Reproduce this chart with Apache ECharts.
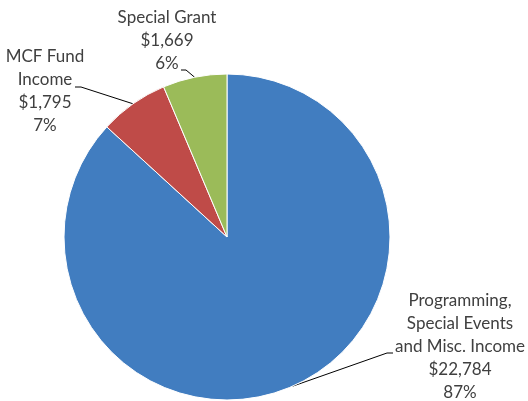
<!DOCTYPE html>
<html>
<head>
<meta charset="utf-8">
<script src="https://cdn.jsdelivr.net/npm/echarts@6/dist/echarts.min.js"></script>
<style>
html,body{margin:0;padding:0;background:#fff;}
#chart{width:528px;height:401px;}
</style>
</head>
<body>
<div id="chart"></div>
<script>
const categories = ["Programming,\nSpecial Events\nand Misc. Income", "MCF Fund\nIncome", "Special Grant"];
const values = [22784, 1795, 1669];
const colors = ["#417DC0", "#BF4B48", "#9BBB59"];

// label placement (pixel positions of label centres and line bends)
const labelPlacement = [
  { x: 460, y: 347, bend: [387, 353], end: [393, 353] },
  { x: 45, y: 91, bend: [81, 87], end: [75, 87] },
  { x: 167, y: 41, bend: [186, 70], end: [181, 70] }
];

const chart = echarts.init(document.getElementById('chart'), null, { renderer: 'canvas' });
chart.setOption({
  animation: false,
  backgroundColor: '#fff',
  series: [{
    type: 'pie',
    center: [227, 237],
    radius: 163,
    startAngle: 90,
    clockwise: true,
    percentPrecision: 0,
    avoidLabelOverlap: false,
    data: categories.map((c, i) => ({ name: c, value: values[i], itemStyle: { color: colors[i] } })),
    itemStyle: { borderColor: '#ffffff', borderWidth: 1 },
    label: {
      show: true,
      position: 'outside',
      fontFamily: 'Lato',
      fontSize: 17,
      lineHeight: 23,
      color: '#404040',
      align: 'center',
      formatter: p => p.name + '\n$' + p.value.toLocaleString('en-US') + '\n' + p.percent + '%'
    },
    labelLine: {
      show: true,
      length: 10,
      length2: 10,
      smooth: false,
      lineStyle: { color: '#000000', width: 1 }
    },
    labelLayout: function (params) {
      const pl = labelPlacement[params.dataIndex];
      const p0 = params.labelLinePoints ? params.labelLinePoints[0] : pl.bend;
      return {
        x: pl.x,
        y: pl.y,
        align: 'center',
        verticalAlign: 'middle',
        labelLinePoints: [p0, pl.bend, pl.end]
      };
    },
    emphasis: { disabled: true }
  }]
});
</script>
</body>
</html>
